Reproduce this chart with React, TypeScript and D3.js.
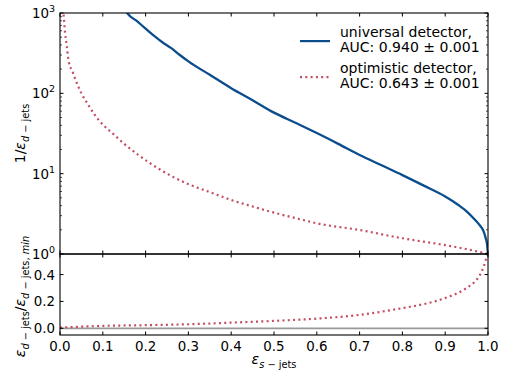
import * as d3 from "d3";

// signal efficiency grid + 1/eps_d
const univEps = [0.15, 0.157, 0.18, 0.2, 0.22, 0.24, 0.26, 0.28, 0.3, 0.35, 0.4, 0.45, 0.5, 0.55, 0.6, 0.65, 0.7, 0.75, 0.8, 0.85, 0.9, 0.93, 0.95, 0.97, 0.98, 0.99, 0.995, 0.998, 1.0];
const univInv = [1150, 1000, 790, 640, 520, 430, 365, 300, 250, 170, 116, 82, 57.5, 43, 32, 23.5, 17.1, 12.8, 9.6, 7.1, 5.2, 4.1, 3.4, 2.65, 2.3, 1.9, 1.55, 1.3, 1.0];

const optEps = [0.004, 0.008, 0.012, 0.016, 0.02, 0.03, 0.035, 0.05, 0.066, 0.08, 0.1, 0.125, 0.15, 0.183, 0.238, 0.3, 0.35, 0.4, 0.45, 0.5, 0.55, 0.6, 0.7, 0.8, 0.9, 0.95, 0.98, 1.0];
const optInv = [1500, 1000, 560, 380, 255, 182, 154, 100, 72, 55, 41, 31, 23.5, 17.1, 10.9, 7.4, 5.9, 4.7, 3.9, 3.27, 2.8, 2.41, 1.99, 1.57, 1.29, 1.15, 1.06, 1.0];

// lower panel ratio
const ratioEps = [0.0, 0.1, 0.2, 0.3, 0.4, 0.5, 0.6, 0.7, 0.8, 0.85, 0.9, 0.95, 0.97, 0.98, 0.99, 0.995, 1.0];
const ratioVal = [0.005, 0.018, 0.023, 0.03, 0.042, 0.055, 0.072, 0.1, 0.15, 0.18, 0.225, 0.3, 0.35, 0.39, 0.46, 0.51, 0.56];

const xTicks = [0, 0.1, 0.2, 0.3, 0.4, 0.5, 0.6, 0.7, 0.8, 0.9, 1.0];
const logMajor = [1, 10, 100, 1000];
const ratioTicks = [0, 0.2, 0.4];

const legendItems = [
  { l1: "universal detector,", l2: "AUC: 0.940 ± 0.001", color: "#0b4c8c", dash: "" },
  { l1: "optimistic detector,", l2: "AUC: 0.643 ± 0.001", color: "#c44e60", dash: "2,3.3" },
];

const W = 508;
const H = 381;
const left = 60;
const right = 488;
const topY = 13;
const midY = 254;
const botY = 335;
const font = "DejaVu Sans";

export default function App() {
  const x = d3.scaleLinear().domain([0, 1]).range([left, right]);
  const yTop = d3.scaleLog().domain([1, 1000]).range([midY, topY]);
  const yBot = d3.scaleLinear().domain([-0.05, 0.553]).range([botY, midY]);

  const lineTop = d3
    .line<[number, number]>()
    .x((d) => x(d[0]))
    .y((d) => yTop(d[1]))
    .curve(d3.curveMonotoneX);
  const lineBot = d3
    .line<[number, number]>()
    .x((d) => x(d[0]))
    .y((d) => yBot(d[1]))
    .curve(d3.curveMonotoneX);

  const univPts = univEps.map((e, i) => [e, univInv[i]] as [number, number]);
  const optPts = optEps.map((e, i) => [e, optInv[i]] as [number, number]);
  const ratioPts = ratioEps.map((e, i) => [e, ratioVal[i]] as [number, number]);

  const minor: number[] = [];
  [1, 10, 100].forEach((dec) => {
    for (let k = 2; k <= 9; k++) minor.push(dec * k);
  });

  const sup: Record<number, string> = { 1: "0", 10: "1", 100: "2", 1000: "3" };

  return (
    <svg width={W} height={H} style={{ position: "absolute", left: 0, top: 0 }} fontFamily={font}>
      <defs>
        <clipPath id="clipTop">
          <rect x={left} y={topY} width={right - left} height={midY - topY} />
        </clipPath>
        <clipPath id="clipBot">
          <rect x={left} y={midY} width={right - left} height={botY - midY} />
        </clipPath>
      </defs>
      <rect width={W} height={H} fill="#fff" />

      {/* top panel curves */}
      <g clipPath="url(#clipTop)">
        <path d={lineTop(optPts) || ""} fill="none" stroke="#c44e60" strokeWidth={2.2} strokeDasharray="2,3.3" />
        <path d={lineTop(univPts) || ""} fill="none" stroke="#0b4c8c" strokeWidth={2.3} />
      </g>

      {/* bottom panel */}
      <g clipPath="url(#clipBot)">
        <line x1={left} x2={right} y1={yBot(0)} y2={yBot(0)} stroke="#999" strokeWidth={1.8} />
        <path d={lineBot(ratioPts) || ""} fill="none" stroke="#c44e60" strokeWidth={2.2} strokeDasharray="2,3.3" />
      </g>

      {/* frames */}
      <rect x={left} y={topY} width={right - left} height={midY - topY} fill="none" stroke="#000" strokeWidth={1.1} />
      <rect x={left} y={midY} width={right - left} height={botY - midY} fill="none" stroke="#000" strokeWidth={1.1} />

      {/* x ticks, inward on every horizontal spine */}
      {xTicks.map((t) => (
        <g key={t} stroke="#000" strokeWidth={1}>
          <line x1={x(t)} x2={x(t)} y1={topY} y2={topY + 3.5} />
          <line x1={x(t)} x2={x(t)} y1={midY - 3.5} y2={midY + 3.5} />
          <line x1={x(t)} x2={x(t)} y1={botY} y2={botY - 3.5} />
        </g>
      ))}
      {xTicks.map((t) => (
        <text key={"xl" + t} x={x(t)} y={351} fontSize={13.4} textAnchor="middle">
          {t.toFixed(1)}
        </text>
      ))}

      {/* log y ticks */}
      {logMajor.map((t) => (
        <g key={"ym" + t} stroke="#000" strokeWidth={1}>
          <line x1={left} x2={left + 3.5} y1={yTop(t)} y2={yTop(t)} />
          <line x1={right} x2={right - 3.5} y1={yTop(t)} y2={yTop(t)} />
        </g>
      ))}
      {minor.map((t) => (
        <g key={"yn" + t} stroke="#000" strokeWidth={0.7}>
          <line x1={left} x2={left + 2} y1={yTop(t)} y2={yTop(t)} />
          <line x1={right} x2={right - 2} y1={yTop(t)} y2={yTop(t)} />
        </g>
      ))}
      {logMajor.map((t) => (
        <text key={"yl" + t} x={55} y={yTop(t) + 5} fontSize={13.4} textAnchor="end">
          10
          <tspan dy={-6} fontSize={9.5}>
            {sup[t]}
          </tspan>
        </text>
      ))}

      {/* ratio y ticks */}
      {ratioTicks.map((t) => (
        <g key={"r" + t}>
          <line x1={left} x2={left + 3.5} y1={yBot(t)} y2={yBot(t)} stroke="#000" />
          <line x1={right} x2={right - 3.5} y1={yBot(t)} y2={yBot(t)} stroke="#000" />
          <text x={55} y={yBot(t) + 5} fontSize={13.4} textAnchor="end">
            {t.toFixed(1)}
          </text>
        </g>
      ))}

      {/* axis labels */}
      <text x={274} y={364} fontSize={14} textAnchor="middle">
        <tspan fontStyle="italic">ε</tspan>
        <tspan dy={3.5} fontSize={9.8}>
          <tspan fontStyle="italic">s</tspan> − jets
        </tspan>
      </text>
      <text transform={`translate(25,${(topY + midY) / 2}) rotate(-90)`} fontSize={14} textAnchor="middle">
        1/<tspan fontStyle="italic">ε</tspan>
        <tspan dy={3.5} fontSize={9.8}>
          <tspan fontStyle="italic">d</tspan> − jets
        </tspan>
      </text>
      <text transform={`translate(25,${(midY + botY) / 2 + 2}) rotate(-90)`} fontSize={14} textAnchor="middle">
        <tspan fontStyle="italic">ε</tspan>
        <tspan dy={3.5} fontSize={9.8}>
          <tspan fontStyle="italic">d</tspan> − jets
        </tspan>
        <tspan dy={-3.5}>/</tspan>
        <tspan fontStyle="italic">ε</tspan>
        <tspan dy={3.5} fontSize={9.8}>
          <tspan fontStyle="italic">d</tspan> − jets, <tspan fontStyle="italic">min</tspan>
        </tspan>
      </text>

      {/* legend */}
      {legendItems.map((it, i) => {
        const base = 37.3 + i * 36;
        return (
          <g key={it.l1}>
            <line x1={300} x2={330} y1={base + 3.8} y2={base + 3.8} stroke={it.color} strokeWidth={2.2} strokeDasharray={it.dash} />
            <text x={340} y={base} fontSize={14}>
              {it.l1}
            </text>
            <text x={340} y={base + 15} fontSize={14}>
              {it.l2}
            </text>
          </g>
        );
      })}
    </svg>
  );
}
